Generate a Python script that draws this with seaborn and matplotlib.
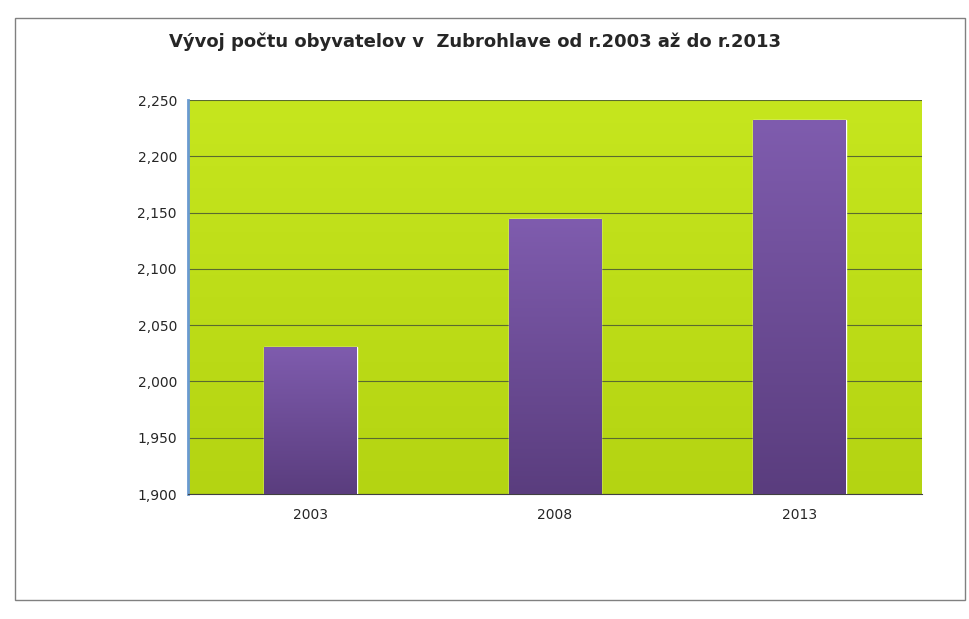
import matplotlib
matplotlib.use("Agg")
import matplotlib.pyplot as plt
import seaborn as sns
import numpy as np
import pandas as pd
from matplotlib.patches import Rectangle
from matplotlib.colors import LinearSegmentedColormap

years = ["2003", "2008", "2013"]
population = [2031, 2144, 2232]
yticks = [1900, 1950, 2000, 2050, 2100, 2150, 2200, 2250]

sns.set_style("white")
plt.rcParams['font.family'] = ['DejaVu Sans']
fig = plt.figure(figsize=(9.70, 6.19), dpi=100)
fig.patch.set_facecolor("white")
fig.patches.append(Rectangle((15/970, 1-600/619), 950/970, 582/619, transform=fig.transFigure,
                             fill=False, edgecolor="#808080", linewidth=1))
ax = fig.add_axes([188/970, 1-494/619, 734/970, 394/619])
df = pd.DataFrame({"year": years, "pop": population})
sns.barplot(data=df, x="year", y="pop", ax=ax, width=0.38, color="#6f4e9c", zorder=3)
ax.set_ylim(1900, 2250)
ax.set_yticks(yticks)
ax.set_yticklabels([f"{v:,}" for v in yticks], fontsize=10)
ax.tick_params(axis="x", labelsize=10, length=0, pad=10)
ax.tick_params(axis="y", length=0, pad=8)
ax.set_xlabel(""); ax.set_ylabel("")
ax.set_facecolor("#bcdc18")
# background gradient
bg = LinearSegmentedColormap.from_list("bg", ["#c6e61e", "#b4d412"])
ax.imshow(np.linspace(0, 1, 256).reshape(-1, 1), cmap=bg, aspect="auto",
          extent=[*ax.get_xlim(), 1900, 2250], zorder=0)
ax.set_ylim(1900, 2250)
ax.grid(axis="y", color="#5a6a30", linewidth=0.8, zorder=1)
bcm = LinearSegmentedColormap.from_list("bar", ["#5a3d7e", "#7f5cae"])
for p in ax.patches:
    im = ax.imshow(np.linspace(0, 1, 256).reshape(-1, 1), cmap=bcm, aspect="auto", origin="lower",
                   extent=[p.get_x(), p.get_x() + p.get_width(), 1900, p.get_y() + p.get_height()], zorder=4)
    im.set_clip_path(p)
ax.set_xlim(-0.5, 2.5)
for s in ["top", "right"]:
    ax.spines[s].set_visible(False)
ax.spines["left"].set_color("#6a9ad0"); ax.spines["left"].set_linewidth(2)
ax.spines["bottom"].set_color("#404040")
fig.text(475/970, 1-42/619, "Vývoj počtu obyvatelov v  Zubrohlave od r.2003 až do r.2013",
         ha="center", va="center", fontsize=13, fontweight="bold")
fig.savefig("out.png", dpi=100)
